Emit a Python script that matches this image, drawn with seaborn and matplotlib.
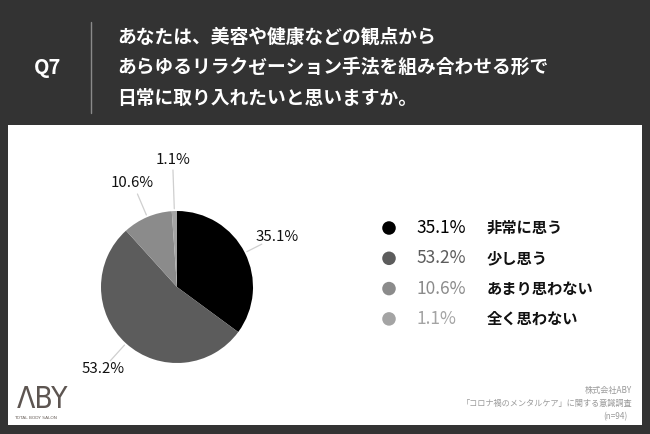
import numpy as np
import pandas as pd
import matplotlib
matplotlib.use("Agg")
import matplotlib.pyplot as plt
import seaborn as sns
from matplotlib.patches import Rectangle
from matplotlib.lines import Line2D

# ---- data ----
categories = ["非常に思う", "少し思う", "あまり思わない", "全く思わない"]
values = [35.1, 53.2, 10.6, 1.1]
pct_labels = ["35.1%", "53.2%", "10.6%", "1.1%"]
colors = ["#000000", "#5c5c5c", "#8b8b8b", "#a4a4a4"]
title_lines = ["あなたは、美容や健康などの観点から",
               "あらゆるリラクゼーション手法を組み合わせる形で",
               "日常に取り入れたいと思いますか。"]
question = "Q7"
footer_lines = ["株式会社ABY", "「コロナ禍のメンタルケア」に関する意識調査", "(n=94)"]

sns.set_theme(style="white")
plt.rcParams['font.family'] = ['Noto Sans CJK JP', 'DejaVu Sans']

W, H = 650, 434
fig = plt.figure(figsize=(W / 100, H / 100), dpi=100)
fig.patch.set_facecolor("#333333")

def fx(px):
    return px / W

def fy(py):
    return 1 - py / H

# white panel
fig.patches.append(Rectangle((fx(8), fy(425)), fx(642) - fx(8), fy(125) - fy(425),
                             transform=fig.transFigure, facecolor="white",
                             edgecolor="none", zorder=-5))

# header
fig.text(fx(48), fy(68), question, color="white", fontsize=14.5, fontweight="bold",
         ha="center", va="center")
fig.add_artist(Line2D([fx(91), fx(91)], [fy(22), fy(113)], transform=fig.transFigure,
                      color="#8a8a8a", lw=1))
for i, line in enumerate(title_lines):
    fig.text(fx(117), fy(37 + 30.5 * i), line, color="white", fontsize=13.5,
             fontweight="bold", ha="left", va="center")

# pie
cx, cy, r = 177, 287, 76
ax = fig.add_axes([fx(cx - r), fy(cy + r), 2 * r / W, 2 * r / H])
ax.set_zorder(2)
ax.pie(values, colors=colors, startangle=90, counterclock=False, radius=1,
       wedgeprops=dict(linewidth=0))
ax.set_xlim(-1, 1)
ax.set_ylim(-1, 1)
ax.axis("off")

cum = np.cumsum([0] + values[:-1])
mids = 90 - (cum + np.array(values) / 2) * 3.6
label_r = [1.47, 1.45, 1.49, 1.67]
line_r = [1.25, 1.31, 1.33, 1.54]
for ang, lab, lr, tr in zip(mids, pct_labels, line_r, label_r):
    a = np.deg2rad(ang)
    ax.plot([1.03 * np.cos(a), lr * np.cos(a)], [1.03 * np.sin(a), lr * np.sin(a)],
            color="#cfcfcf", lw=0.9, clip_on=False)
    ax.text(tr * np.cos(a), tr * np.sin(a), lab, ha="center", va="center",
            fontsize=10.8, color="#111111", clip_on=False)

# legend
lx0, lx1 = 380, 640
row0, step = 228, 30.3
top = row0 - step / 2
bot = row0 + 3 * step + step / 2
lax = fig.add_axes([fx(lx0), fy(bot), (lx1 - lx0) / W, (bot - top) / H])
lax.set_zorder(2)
df = pd.DataFrame({"x": [9] * len(categories), "y": list(range(len(categories))),
                   "cat": categories})
sns.scatterplot(data=df, x="x", y="y", hue="cat", palette=colors, s=95,
                linewidth=0, legend=False, ax=lax)
lax.set_xlim(0, lx1 - lx0)
lax.set_ylim(len(categories) - 0.5, -0.5)
lax.axis("off")
for i, (p, c, col) in enumerate(zip(pct_labels, categories, colors)):
    lax.text(36, i, p, ha="left", va="center", fontsize=12.5, color=col)
    lax.text(107, i, c, ha="left", va="center", fontsize=11, fontweight="bold",
             color="#111111")

# footer
fig.text(fx(42.5), fy(399), "ΛBY", family=["DejaVu Sans"], fontstretch="condensed",
         fontsize=21.5, color="#5d5551", ha="center", va="center")
fig.text(fx(36), fy(418), "TOTAL BODY SALON", family=["DejaVu Sans"], fontsize=3.2,
         color="#6b625c", ha="center", va="center")
fy_lines = [390, 403.5, 417]
fx_right = [632, 632, 628]
for t, y, xr in zip(footer_lines, fy_lines, fx_right):
    fig.text(fx(xr), fy(y), t, fontsize=5.9, color="#9a9a9a", ha="right", va="center")

fig.savefig("out.png", dpi=100, facecolor=fig.get_facecolor())
